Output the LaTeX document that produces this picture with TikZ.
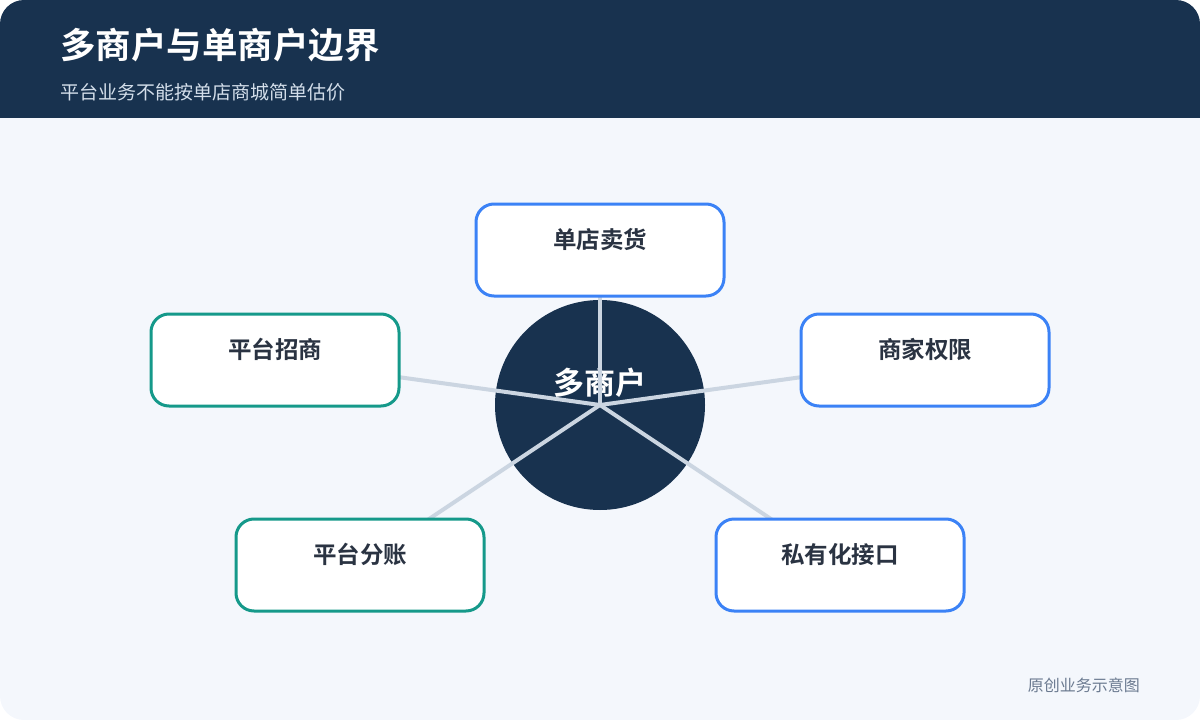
\documentclass[tikz,border=0pt]{standalone}
\usepackage{fontspec}
\setmainfont{Noto Sans CJK SC}[BoldFont={Noto Sans CJK SC Bold}]
\usetikzlibrary{positioning}
\definecolor{hdr}{HTML}{18324F}
\definecolor{bodybg}{HTML}{F4F7FC}
\definecolor{bluebd}{HTML}{3B82F6}
\definecolor{greenbd}{HTML}{15998A}
\definecolor{linkc}{HTML}{CBD5E1}
\definecolor{boxtxt}{HTML}{2A3342}
\definecolor{subc}{HTML}{D3DEEA}
\definecolor{footc}{HTML}{6B7A90}
\pgfdeclarelayer{back}
\pgfdeclarelayer{links}
\pgfsetlayers{back,links,main}
\tikzset{
  card/.style={rounded corners=18pt, fill=white, line width=3pt,
    minimum width=248pt, minimum height=92pt, inner sep=0pt,
    text=boxtxt, font=\fontsize{23.5}{27}\selectfont\bfseries},
  bluecard/.style={card, draw=bluebd},
  greencard/.style={card, draw=greenbd},
  link/.style={draw=linkc, line width=4pt},
}
\newcommand{\cardtext}[1]{\smash{\raisebox{1.5pt}{#1}}}
\begin{document}
\begin{tikzpicture}[x=1pt,y=-1pt]
\useasboundingbox (0,0) rectangle (1200,720);
\begin{pgfonlayer}{back}
\fill[bodybg, rounded corners=24pt] (0,0) rectangle (1200,720);
\begin{scope}
\clip[rounded corners=24pt] (0,0) rectangle (1200,720);
\fill[hdr] (0,0) rectangle (1200,118);
\end{scope}
\node[anchor=base west, text=white, font=\fontsize{35.5}{40}\selectfont\bfseries, inner sep=0pt] (title) at (60,58) {多商户与单商户边界};
\node[anchor=base west, text=subc, font=\fontsize{19}{22}\selectfont, inner sep=0pt] (sub) at (60,99) {平台业务不能按单店商城简单估价};
\node[anchor=base east, text=footc, font=\fontsize{16}{18}\selectfont, inner sep=0pt] (foot) at (1140,691) {原创业务示意图};
\node[circle, fill=hdr, minimum size=210pt, inner sep=0pt, text=white,
      font=\fontsize{31}{36}\selectfont\bfseries] (hub) at (600,405) {\smash{\raisebox{11pt}{多商户}}};
\end{pgfonlayer}

\node[bluecard] (sell) at (600,250) {\cardtext{单店卖货}};
\node[greencard] (recruit) at (275,360) {\cardtext{平台招商}};
\node[bluecard] (perm) at (925,360) {\cardtext{商家权限}};
\node[greencard] (split) at (360,565) {\cardtext{平台分账}};
\node[bluecard] (api) at (840,565) {\cardtext{私有化接口}};

\begin{pgfonlayer}{links}
\draw[link] (hub.center) -- (sell.center);
\draw[link] (hub.center) -- (recruit.center);
\draw[link] (hub.center) -- (perm.center);
\draw[link] (hub.center) -- (split.center);
\draw[link] (hub.center) -- (api.center);
\end{pgfonlayer}
\end{tikzpicture}
\end{document}
